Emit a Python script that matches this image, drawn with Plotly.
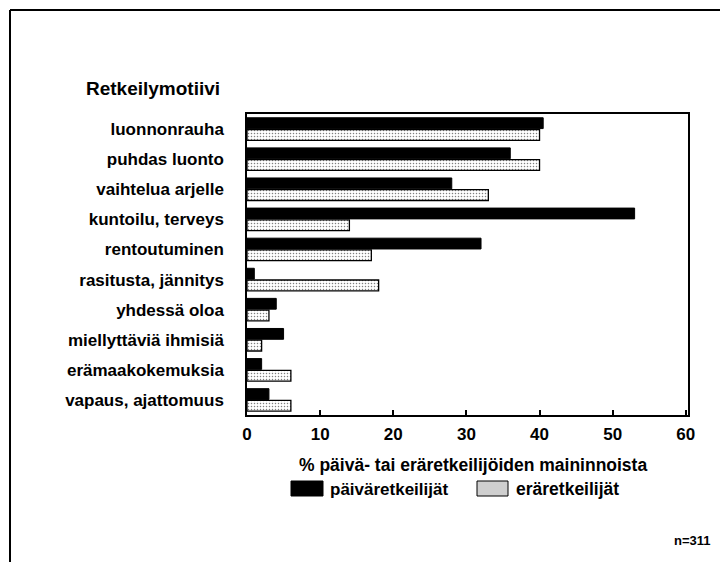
import plotly.graph_objects as go

categories = ["luonnonrauha", "puhdas luonto", "vaihtelua arjelle", "kuntoilu, terveys",
              "rentoutuminen", "rasitusta, jännitys", "yhdessä oloa",
              "miellyttäviä ihmisiä", "erämaakokemuksia", "vapaus, ajattomuus"]
paivaretkeilijat = [40.5, 36, 28, 53, 32, 1, 4, 5, 2, 3]
eraretkeilijat = [40, 40, 33, 14, 17, 18, 3, 2, 6, 6]
x_ticks = [0, 10, 20, 30, 40, 50, 60]
series_names = ["päiväretkeilijät", "eräretkeilijät"]

# The page body has an 8px margin, so the figure is drawn 8px smaller and
# positions below are given in window pixels, shifted by OFF.
OFF = 8
W, H = 728 - OFF, 562 - OFF
L, R, T, B = 247 - OFF, 40, 114 - OFF, 147
PW, PH = W - L - R, H - T - B
FONT = "Liberation Sans"


def px(x):
    return (x - OFF - L) / PW


def py(y):
    return (H - B - (y - OFF)) / PH


fig = go.Figure()
fig.add_trace(go.Bar(
    y=categories, x=paivaretkeilijat, orientation="h", name=series_names[0],
    marker=dict(color="black", line=dict(color="black", width=1)),
    showlegend=False,
))
fig.add_trace(go.Bar(
    y=categories, x=eraretkeilijat, orientation="h", name=series_names[1],
    marker=dict(color="white", line=dict(color="black", width=1.3),
                pattern=dict(shape=".", fgcolor="black", bgcolor="white",
                             size=3, solidity=0.2)),
    showlegend=False,
))

shapes = [
    # outer page frame
    dict(type="line", xref="paper", yref="paper", x0=px(10), x1=px(726), y0=py(10), y1=py(10),
         line=dict(color="black", width=2)),
    dict(type="line", xref="paper", yref="paper", x0=px(10), x1=px(10), y0=py(10), y1=py(562),
         line=dict(color="black", width=2)),
    # legend swatches
    dict(type="rect", xref="paper", yref="paper", x0=px(291), x1=px(323), y0=py(481), y1=py(496),
         fillcolor="black", line=dict(color="black", width=1)),
    dict(type="rect", xref="paper", yref="paper", x0=px(477), x1=px(508), y0=py(481), y1=py(496),
         fillcolor="#cfcfcf", line=dict(color="black", width=1)),
]

annotations = [
    dict(text="<b>Retkeilymotiivi</b>", xref="paper", yref="paper", x=px(84), y=py(88),
         xanchor="left", yanchor="middle", showarrow=False,
         font=dict(family=FONT, size=19, color="black")),
    dict(text="<b>% päivä- tai eräretkeilijöiden maininnoista</b>", xref="paper", yref="paper",
         x=px(473), y=py(465), xanchor="center", yanchor="middle", showarrow=False,
         font=dict(family=FONT, size=17.5, color="black")),
    dict(text="<b>" + series_names[0] + "</b>", xref="paper", yref="paper", x=px(328), y=py(489),
         xanchor="left", yanchor="middle", showarrow=False,
         font=dict(family=FONT, size=17, color="black")),
    dict(text="<b>" + series_names[1] + "</b>", xref="paper", yref="paper", x=px(514), y=py(489),
         xanchor="left", yanchor="middle", showarrow=False,
         font=dict(family=FONT, size=17.5, color="black")),
    dict(text="<b>n=311</b>", xref="paper", yref="paper", x=px(713), y=py(540),
         xanchor="right", yanchor="middle", showarrow=False,
         font=dict(family=FONT, size=13, color="black")),
]

fig.update_layout(
    width=W, height=H,
    margin=dict(l=L, r=R, t=T, b=B, pad=0),
    paper_bgcolor="white", plot_bgcolor="white",
    barmode="group", bargap=0.22, bargroupgap=0.08,
    font=dict(family=FONT, color="black"),
    shapes=shapes, annotations=annotations,
    xaxis=dict(range=[0, 60.3], tickvals=x_ticks, ticktext=["<b>%d</b>" % v for v in x_ticks],
               ticks="inside", ticklen=5, tickwidth=1.5, tickcolor="black",
               showline=True, linecolor="black", linewidth=1.5, mirror=True,
               showgrid=False, zeroline=False, ticklabelstandoff=3,
               tickfont=dict(family=FONT, size=17, color="black")),
    yaxis=dict(autorange="reversed", showline=True, linecolor="black", linewidth=1.5,
               mirror=True, ticks="", showgrid=False, ticklabelstandoff=18,
               tickvals=categories, ticktext=["<b>%s</b>" % c for c in categories],
               tickfont=dict(family=FONT, size=17, color="black")),
)

fig.write_html("out.html")
